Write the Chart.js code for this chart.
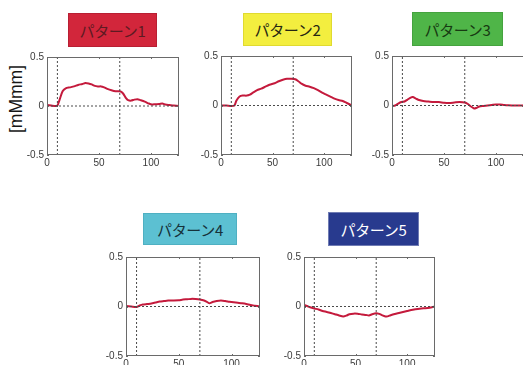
<!DOCTYPE html>
<html>
<head>
<meta charset="utf-8">
<script src="https://cdn.jsdelivr.net/npm/chart.js@4/dist/chart.umd.min.js"></script>
<style>
  html, body { margin: 0; padding: 0; background: #fff; width: 523px; height: 365px; overflow: hidden; position: relative; }
  .panel { position: absolute; }
  .tag { position: absolute; display: flex; align-items: center; justify-content: center;
         font-family: "Noto Sans CJK JP", "Noto Sans", sans-serif; font-size: 15px; box-sizing: border-box; letter-spacing: -0.3px; }
  #ylabel { position: absolute; left: 16px; top: 99px; font-family: "Liberation Sans", Arial, sans-serif; font-size: 17.5px;
            color: #161616; white-space: nowrap; transform: translate(-50%, -50%) rotate(-90deg); }
</style>
</head>
<body>
<div id="ylabel">[mMmm]</div>
<script>
// Pattern names shown in the coloured tags
const patternNames = ['パターン1', 'パターン2', 'パターン3', 'パターン4', 'パターン5'];

// Axis ticks
const xTicks = [0, 50, 100];
const yTicks = [-0.5, 0, 0.5];
const yTickLabels = ['-0.5', '0', '0.5'];
const xMax = 127;

// Event markers (vertical dotted lines)
const markerX = [10, 70];

// Pattern 1
const p1x = [0, 4, 8, 10, 12, 15, 18, 22, 26, 30, 34, 37, 40, 43, 46, 49, 52, 55, 58, 62, 66, 70, 73, 76, 78, 81, 84, 87, 90, 94, 98, 101, 104, 108, 111, 114, 118, 122, 127];
const p1y = [0.01, 0.005, 0.0, 0.005, 0.06, 0.15, 0.18, 0.19, 0.2, 0.215, 0.225, 0.235, 0.23, 0.22, 0.205, 0.2, 0.2, 0.19, 0.175, 0.16, 0.15, 0.15, 0.13, 0.08, 0.06, 0.055, 0.065, 0.07, 0.06, 0.045, 0.025, 0.015, 0.018, 0.02, 0.025, 0.015, 0.01, 0.005, 0.0];

// Pattern 2
const p2x = [0, 5, 10, 13, 15, 18, 21, 25, 28, 31, 35, 39, 43, 47, 52, 56, 60, 64, 68, 72, 75, 78, 82, 86, 90, 94, 98, 102, 106, 110, 114, 118, 122, 127];
const p2y = [0.0, 0.0, -0.005, 0.0, 0.05, 0.09, 0.1, 0.1, 0.11, 0.13, 0.155, 0.17, 0.19, 0.21, 0.225, 0.245, 0.26, 0.27, 0.27, 0.265, 0.245, 0.22, 0.2, 0.19, 0.175, 0.155, 0.13, 0.11, 0.09, 0.07, 0.055, 0.045, 0.025, 0.0];

// Pattern 3
const p3x = [0, 3, 6, 9, 12, 15, 18, 20, 23, 26, 30, 35, 40, 45, 50, 55, 60, 65, 70, 73, 76, 79, 81, 84, 88, 92, 96, 100, 104, 108, 112, 118, 127];
const p3y = [-0.005, 0.0, 0.02, 0.035, 0.04, 0.06, 0.08, 0.085, 0.07, 0.055, 0.045, 0.04, 0.035, 0.035, 0.028, 0.025, 0.03, 0.035, 0.03, 0.015, -0.01, -0.03, -0.025, -0.01, -0.005, 0.0, 0.005, 0.01, 0.01, 0.005, 0.002, 0.0, 0.0];

// Pattern 4
const p4x = [0, 5, 10, 13, 16, 20, 24, 28, 32, 36, 40, 45, 50, 54, 58, 62, 66, 70, 74, 77, 79, 82, 86, 90, 94, 98, 102, 106, 110, 114, 118, 122, 127];
const p4y = [0.005, 0.0, -0.005, 0.01, 0.02, 0.025, 0.03, 0.04, 0.05, 0.055, 0.06, 0.06, 0.062, 0.07, 0.073, 0.077, 0.075, 0.07, 0.06, 0.045, 0.033, 0.045, 0.055, 0.06, 0.055, 0.048, 0.042, 0.037, 0.032, 0.025, 0.015, 0.008, 0.0];

// Pattern 5
const p5x = [0, 3, 6, 10, 14, 18, 22, 26, 30, 34, 38, 41, 44, 48, 52, 56, 60, 63, 66, 70, 73, 76, 79, 81, 84, 88, 92, 96, 100, 104, 108, 112, 116, 120, 124, 127];
const p5y = [0.015, 0.005, -0.008, -0.02, -0.03, -0.045, -0.055, -0.066, -0.078, -0.09, -0.1, -0.092, -0.078, -0.072, -0.073, -0.08, -0.085, -0.09, -0.078, -0.068, -0.075, -0.09, -0.1, -0.1, -0.088, -0.075, -0.065, -0.055, -0.045, -0.035, -0.028, -0.022, -0.018, -0.015, -0.008, 0.0];

const seriesX = [p1x, p2x, p3x, p4x, p5x];
const seriesY = [p1y, p2y, p3y, p4y, p5y];

// Page layout: plot-area edges and tag boxes
const panels = [
  { l: 47,  t: 56,  r: 179, b: 155, tag: { l: 68,  t: 13,  w: 89, h: 34, bg: '#d2263b', fg: '#5e1a22', bd: '#b81f33' } },
  { l: 221, t: 55,  r: 352, b: 155, tag: { l: 243, t: 13,  w: 89, h: 33, bg: '#f3ee3f', fg: '#262612', bd: '#e0da30' } },
  { l: 392, t: 55,  r: 524, b: 155, tag: { l: 412, t: 12,  w: 91, h: 34, bg: '#4fb548', fg: '#173a12', bd: '#45a33f' } },
  { l: 126, t: 256, r: 260, b: 356, tag: { l: 143, t: 213, w: 94, h: 32, bg: '#5cc0d2', fg: '#16323a', bd: '#4fb0c2' } },
  { l: 304, t: 256, r: 435, b: 356, tag: { l: 328, t: 212, w: 91, h: 34, bg: '#283a8e', fg: '#ffffff', bd: '#6f7bb3' } }
];

const Y_AXIS_W = 30, X_AXIS_H = 22, PAD_T = 8, PAD_R = 8;
const tickFont = { family: '"Liberation Sans", Arial, sans-serif', size: 10 };

// Frame round the plot area with short inward tick marks
const framePlugin = {
  id: 'frame',
  afterDatasetsDraw(chart) {
    const { ctx, chartArea: a, scales: { x, y } } = chart;
    ctx.save();
    ctx.strokeStyle = '#6a6a6a';
    ctx.lineWidth = 1;
    ctx.beginPath();
    xTicks.forEach(v => {
      const px = Math.round(x.getPixelForValue(v)) + 0.5;
      ctx.moveTo(px, a.bottom); ctx.lineTo(px, a.bottom - 2);
      ctx.moveTo(px, a.top); ctx.lineTo(px, a.top + 2);
    });
    yTicks.forEach(v => {
      const py = Math.round(y.getPixelForValue(v)) + 0.5;
      ctx.moveTo(a.left, py); ctx.lineTo(a.left + 2, py);
      ctx.moveTo(a.right, py); ctx.lineTo(a.right - 2, py);
    });
    ctx.stroke();
    ctx.strokeRect(Math.round(a.left) + 0.5, Math.round(a.top) + 0.5, Math.round(a.width) - 1, Math.round(a.height) - 1);
    ctx.restore();
  }
};

const dotted = { borderColor: '#4a4a4a', borderWidth: 1, borderDash: [2, 2], pointRadius: 0, fill: false };

panels.forEach((p, i) => {
  // coloured tag
  const tag = document.createElement('div');
  tag.className = 'tag';
  Object.assign(tag.style, {
    left: p.tag.l + 'px', top: p.tag.t + 'px', width: p.tag.w + 'px', height: p.tag.h + 'px',
    background: p.tag.bg, color: p.tag.fg, border: '1px solid ' + p.tag.bd
  });
  tag.textContent = patternNames[i];
  document.body.appendChild(tag);

  // chart canvas
  const w = Y_AXIS_W + (p.r - p.l) + PAD_R;
  const h = PAD_T + (p.b - p.t) + X_AXIS_H;
  const wrap = document.createElement('div');
  wrap.className = 'panel';
  Object.assign(wrap.style, { left: (p.l - Y_AXIS_W) + 'px', top: (p.t - PAD_T) + 'px', width: w + 'px', height: h + 'px' });
  const cv = document.createElement('canvas');
  cv.width = w; cv.height = h;
  wrap.appendChild(cv);
  document.body.appendChild(wrap);

  const datasets = markerX.map(mx => Object.assign({ data: [{ x: mx, y: -0.5 }, { x: mx, y: 0.5 }] }, dotted));
  datasets.push(Object.assign({ data: [{ x: 0, y: 0 }, { x: xMax, y: 0 }] }, dotted));
  datasets.push({
    data: seriesX[i].map((x, k) => ({ x, y: seriesY[i][k] })),
    borderColor: '#c41a3c', borderWidth: 2, pointRadius: 0, tension: 0.25, fill: false
  });

  new Chart(cv, {
    type: 'line',
    data: { datasets },
    plugins: [framePlugin],
    options: {
      responsive: false, animation: false, events: [],
      layout: { padding: { top: PAD_T, right: PAD_R, left: 0, bottom: 0 } },
      plugins: { legend: { display: false }, tooltip: { enabled: false } },
      scales: {
        x: {
          type: 'linear', min: 0, max: xMax,
          afterBuildTicks: s => { s.ticks = xTicks.map(v => ({ value: v })); },
          afterFit: s => { s.height = X_AXIS_H; },
          ticks: { font: tickFont, color: '#3a3a3a', padding: 2, maxRotation: 0, autoSkip: false },
          grid: { display: false, drawTicks: false },
          border: { display: false }
        },
        y: {
          type: 'linear', min: -0.5, max: 0.5,
          afterBuildTicks: s => { s.ticks = yTicks.map(v => ({ value: v })); },
          afterFit: s => { s.width = Y_AXIS_W; },
          ticks: { font: tickFont, color: '#3a3a3a', padding: 3,
                   callback: v => yTickLabels[yTicks.indexOf(v)] },
          grid: { display: false, drawTicks: false },
          border: { display: false }
        }
      }
    }
  });
});
</script>
</body>
</html>
